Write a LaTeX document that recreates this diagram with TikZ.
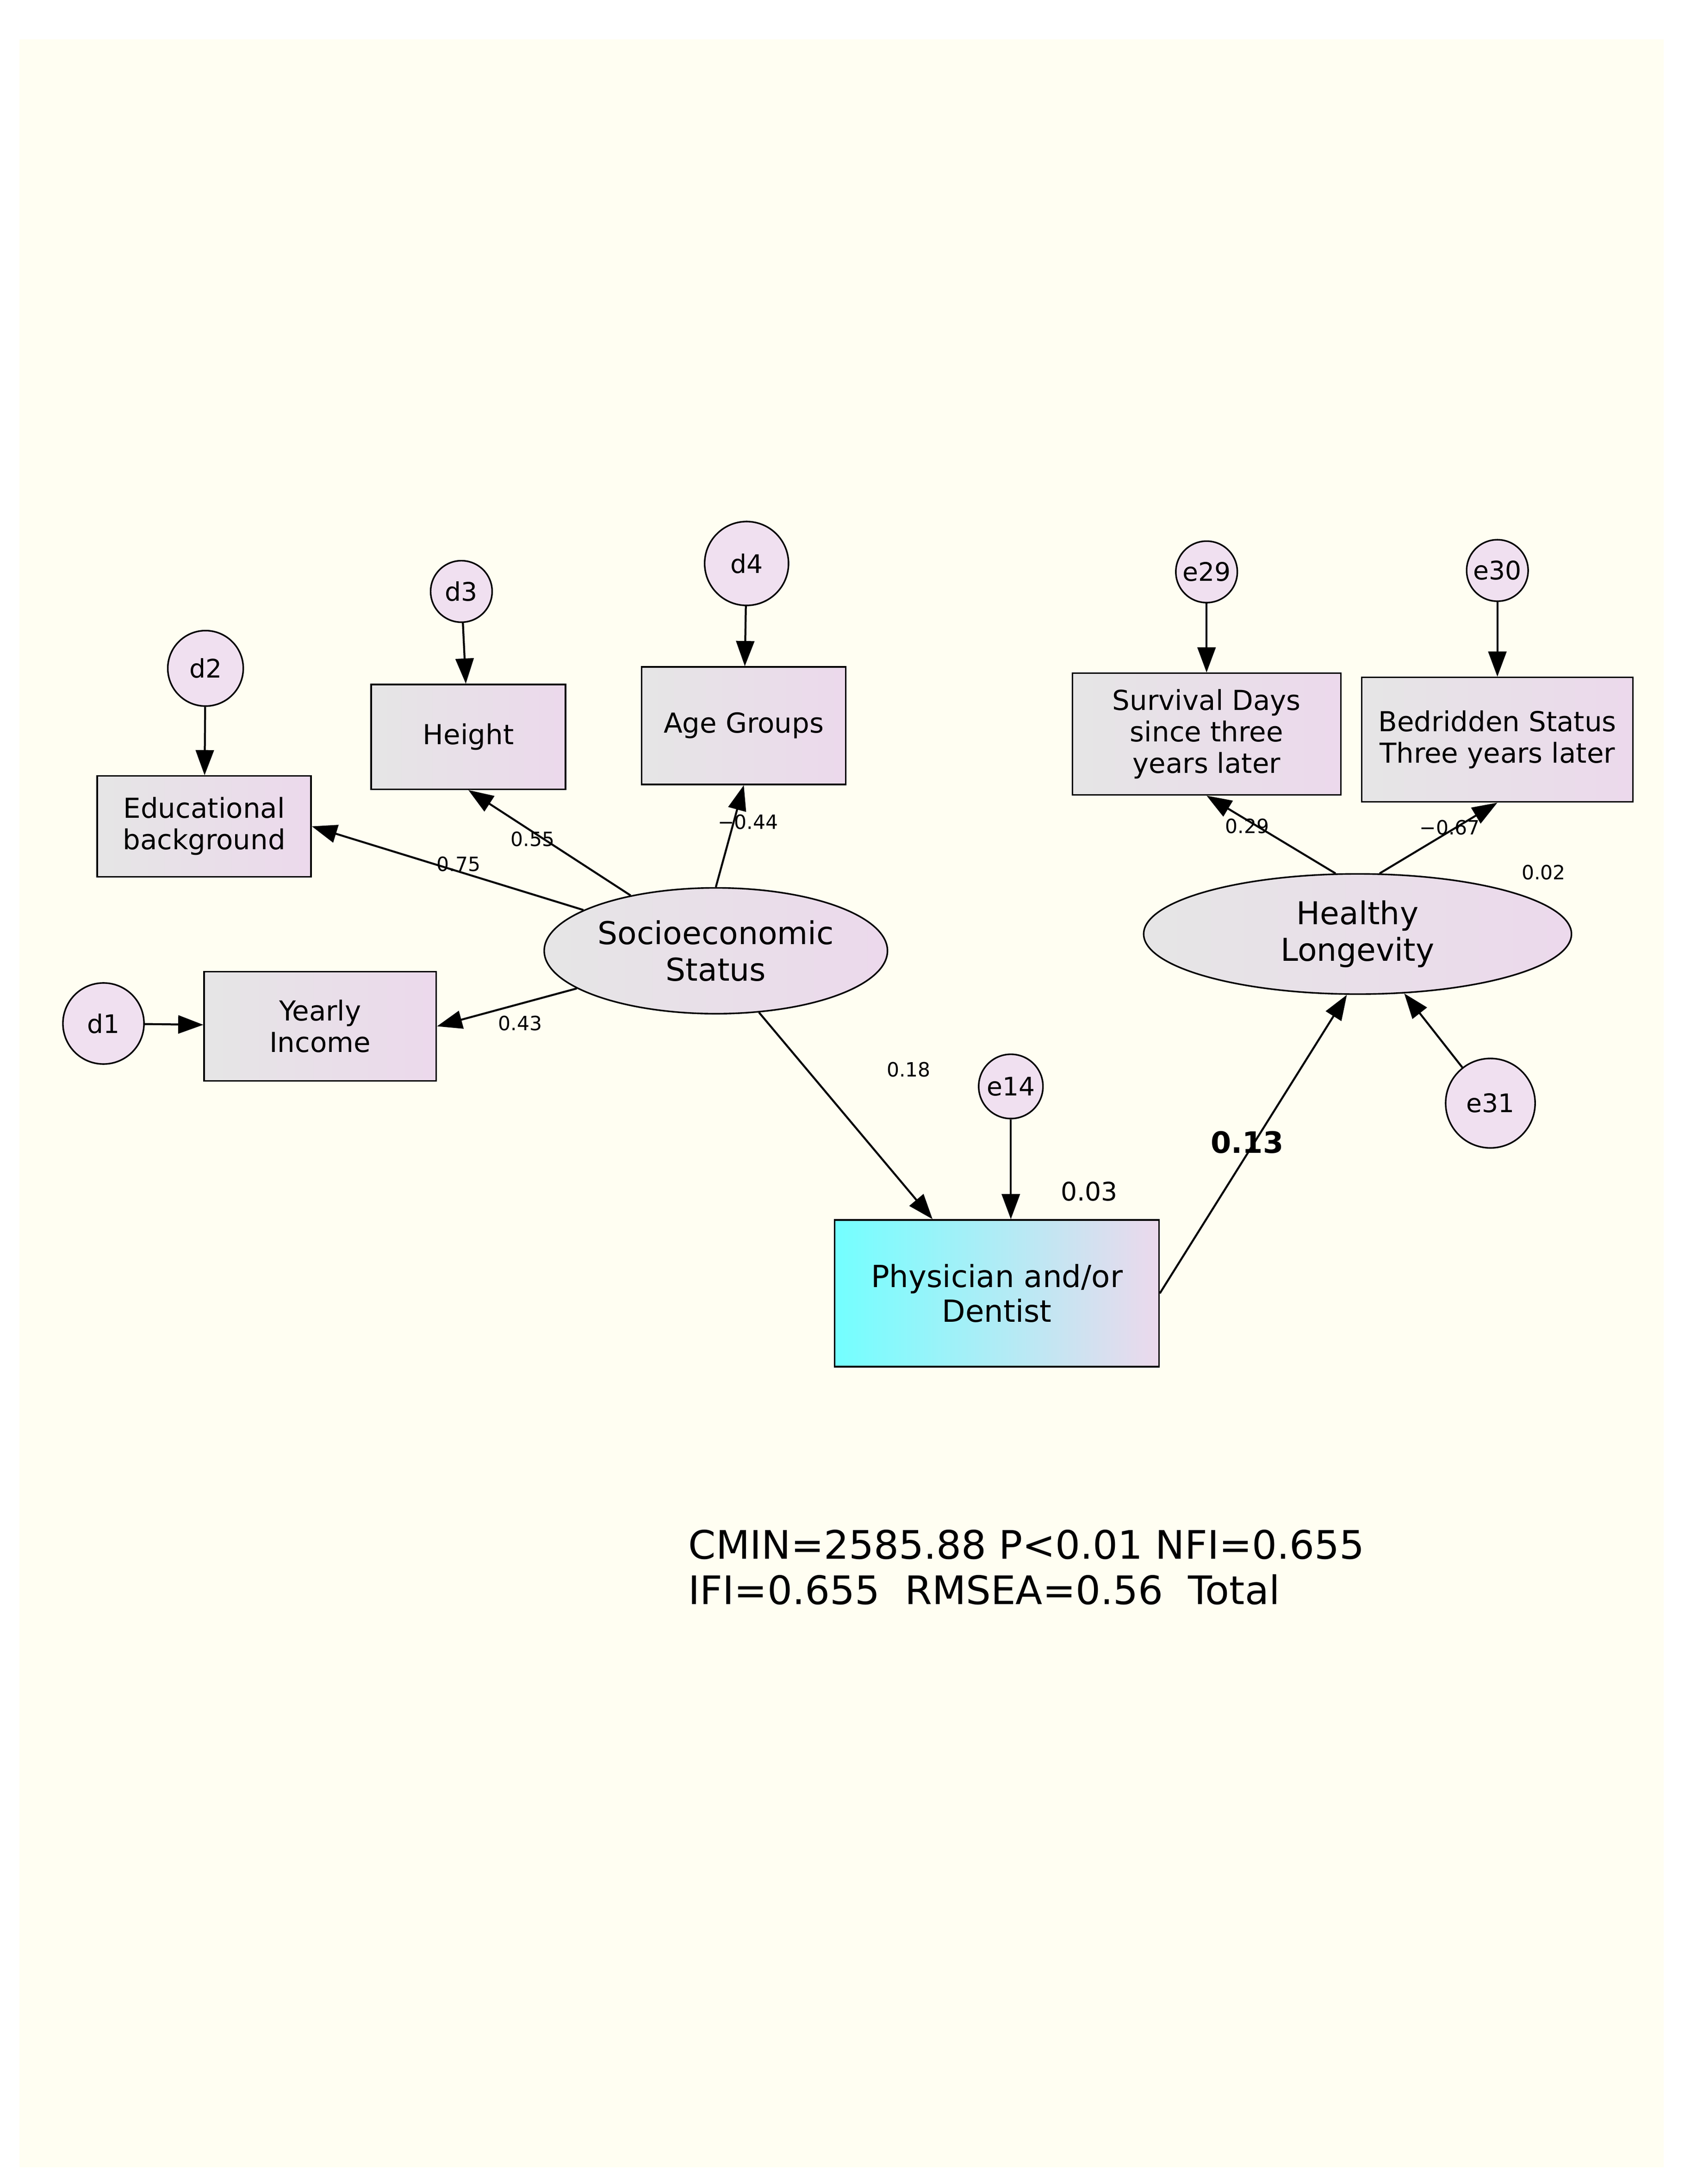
\documentclass[tikz,border=0pt]{standalone}
\usepackage{fontspec}
\setmainfont{DejaVu Sans}
\usetikzlibrary{arrows.meta,shapes.geometric,positioning}

\begin{document}
\begin{tikzpicture}[x=0.05cm,y=-0.05cm,
        obs/.style={rectangle, draw, line width=1.6pt, left color=gray!20, right color=violet!15, align=center, font=\fontsize{28}{32}\selectfont},
        lat/.style={ellipse, draw, line width=1.6pt, left color=gray!20, right color=violet!15, align=center, font=\fontsize{32}{37}\selectfont},
        err/.style={circle, draw, line width=1.6pt, fill=violet!12, inner sep=0pt, font=\fontsize{26}{30}\selectfont},
        arrow/.style={line width=2pt, -{Triangle[length=0.9cm,width=0.65cm]}},
        coef/.style={font=\fontsize{20}{24}\selectfont}
    ]

    % Background
    \fill[white] (0,0) rectangle (1213.5,1562);
    \fill[yellow!5] (14,28) rectangle (1190,1550);

    % Socioeconomic status and its indicators
    \node[lat, minimum width=240\pgflinewidth, minimum width=12cm, minimum height=4.5cm] (ses) at (512,680) {Socioeconomic\\Status};
    \node[obs, minimum width=7.65cm, minimum height=3.6cm] (edu) at (146,591) {Educational\\background};
    \node[obs, minimum width=6.95cm, minimum height=3.75cm] (height) at (335,527) {Height};
    \node[obs, minimum width=7.3cm, minimum height=4.2cm] (age) at (532,519) {Age Groups};
    \node[obs, minimum width=8.3cm, minimum height=3.9cm] (income) at (229,734) {Yearly\\Income};
    \node[err, minimum size=2.7cm] (d2) at (147,478) {d2};
    \node[err, minimum size=2.2cm] (d3) at (330,423) {d3};
    \node[err, minimum size=3cm] (d4) at (534,403) {d4};
    \node[err, minimum size=2.9cm] (d1) at (74,732) {d1};

    % Healthy longevity and its indicators
    \node[lat, minimum width=15.3cm, minimum height=4.3cm] (hl) at (971,668) {Healthy\\Longevity};
    \node[obs, minimum width=9.6cm, minimum height=4.35cm] (surv) at (863,525) {Survival Days\\since three\\years later};
    \node[obs, minimum width=9.7cm, minimum height=4.45cm, inner sep=1pt] (bed) at (1071,529) {Bedridden Status\\Three years later};
    \node[err, minimum size=2.2cm] (e29) at (863,409) {e29};
    \node[err, minimum size=2.2cm] (e30) at (1071,408) {e30};
    \node[err, minimum size=3.2cm] (e31) at (1066,789) {e31};

    % Mediator
    \node[obs, left color=cyan!55, right color=violet!15, minimum width=11.6cm, minimum height=5.25cm, font=\fontsize{31}{35}\selectfont] (phys) at (713,925) {Physician and/or\\Dentist};
    \node[err, minimum size=2.3cm] (e14) at (723,777) {e14};

    % Paths
    \draw[arrow] (ses) -- (edu.east);
    \draw[arrow] (ses) -- (height.south);
    \draw[arrow] (ses.north) -- (age.south);
    \draw[arrow] (ses) -- (income.east);
    \draw[arrow] (ses.-55) -- (phys.north west -| 667,873);
    \draw[arrow] (phys.east) -- (hl.-100);
    \draw[arrow] (hl.110) -- (surv.south);
    \draw[arrow] (hl.70) -- (bed.south);
    \draw[arrow] (d2) -- (edu);
    \draw[arrow] (d3) -- (height);
    \draw[arrow] (d4) -- (age);
    \draw[arrow] (d1) -- (income);
    \draw[arrow] (e29) -- (surv);
    \draw[arrow] (e30) -- (bed);
    \draw[arrow] (e31) -- (hl);
    \draw[arrow] (e14) -- (e14 |- phys.north);

    % Estimates
    \node[coef] at (328,618) {0.75};
    \node[coef] at (381,600) {0.55};
    \node[coef] at (535,588) {−0.44};
    \node[coef] at (372,732) {0.43};
    \node[coef] at (650,765) {0.18};
    \node[coef, font=\fontsize{26}{30}\selectfont] at (779,852) {0.03};
    \node[coef, font=\bfseries\fontsize{30}{34}\selectfont] at (892,817) {0.13};
    \node[coef] at (892,591) {0.29};
    \node[coef] at (1037,592) {−0.67};
    \node[coef] at (1104,624) {0.02};

    % Fit indices
    \node[anchor=west, align=left, font=\fontsize{40}{46}\selectfont] (fit) at (490,1121) {CMIN=2585.88 P<0.01 NFI=0.655\\IFI=0.655~~RMSEA=0.56~~Total};

\end{tikzpicture}
\end{document}
